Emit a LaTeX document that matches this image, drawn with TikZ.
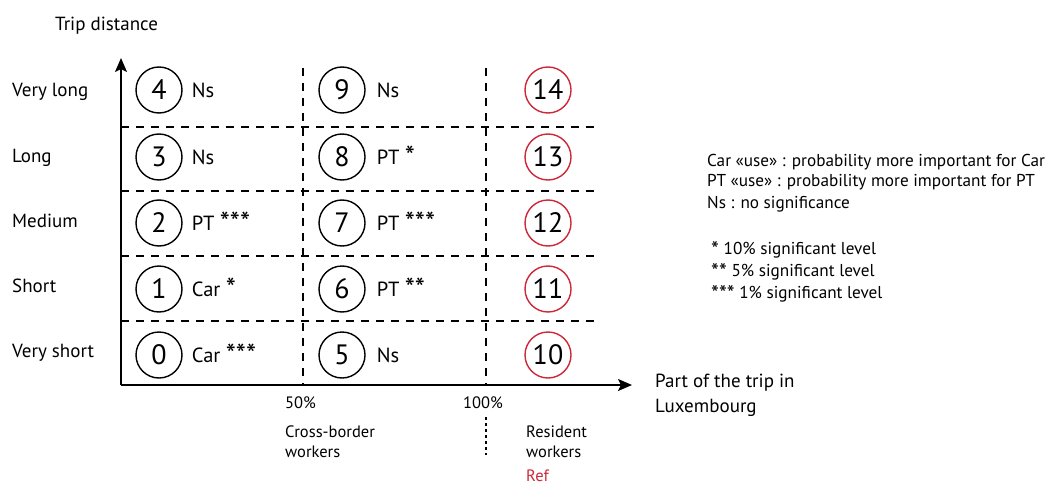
\documentclass[tikz,border=0pt]{standalone}
\usepackage{fontspec}
\usepackage{graphicx}
\setmainfont{PT Sans}
\usetikzlibrary{arrows.meta}
\definecolor{refred}{RGB}{205,40,55}
\newcommand\sta{\smash{\raisebox{-0.13em}{\scalebox{1.4}{*}}}}
\newcommand\stb{\smash{\raisebox{-0.2em}{\scalebox{1.3}{*}}}}
\begin{document}
\begin{tikzpicture}[x=1pt,y=-1pt,
 num/.style={circle,draw,line width=1.4pt,minimum size=46pt,inner sep=0pt,font=\fontsize{28}{30}\selectfont},
 refnum/.style={num,draw=refred},
 lab/.style={anchor=west,font=\fontsize{20.5}{22}\selectfont,inner sep=0pt},
 rowlab/.style={anchor=base west,font=\fontsize{19}{22}\selectfont,inner sep=0pt},
 small/.style={anchor=base west,font=\fontsize{16.5}{20}\selectfont,inner sep=0pt},
 leg/.style={anchor=base west,font=\fontsize{17.2}{20}\selectfont,inner sep=0pt},
 gridline/.style={dash pattern=on 8pt off 7pt,line width=1.3pt},
 axis/.style={line width=1.8pt,-{Stealth[length=14pt,width=12pt,inset=3pt]}}
]
\useasboundingbox (0,0) rectangle (1051,484);
% axes
\coordinate (O) at (121,385);
\coordinate (ytip) at (121,58);
\coordinate (xtip) at (632,385);
% grid
\foreach \y [count=\i] in {127,191,256,321}{
  \coordinate (hl\i) at (121,\y);
  \coordinate (hr\i) at (600,\y);
  \draw[gridline] (hl\i) -- (hr\i);
}
\foreach \x [count=\i] in {303,486}{
  \coordinate (vt\i) at (\x,68);
  \coordinate (vb\i) at (\x,385);
  \draw[gridline] (vt\i) -- (vb\i);
}
\draw[axis] (O) -- (ytip);
\draw[axis] (O) -- (xtip);
% circles
\foreach \y [count=\i from 0] in {355,289,223,157,90}{
  \pgfmathtruncatemacro{\a}{\i}
  \pgfmathtruncatemacro{\b}{\i+5}
  \pgfmathtruncatemacro{\c}{\i+10}
  \node[num] (c\a) at (159,\y) {\a};
  \node[num] (c\b) at (342,\y) {\b};
  \node[refnum] (c\c) at (548,\y) {\c};
}
% cell labels
\node[lab] (l0) at ([xshift=9pt]c0.east) {Car \sta\sta\sta};
\node[lab] (l1) at ([xshift=9pt]c1.east) {Car \sta};
\node[lab] (l2) at ([xshift=9pt]c2.east) {PT \sta\sta\sta};
\node[lab] (l3) at ([xshift=9pt]c3.east) {Ns};
\node[lab] (l4) at ([xshift=9pt]c4.east) {Ns};
\node[lab] (l5) at ([xshift=11pt]c5.east) {Ns};
\node[lab] (l6) at ([xshift=11pt]c6.east) {PT \sta\sta};
\node[lab] (l7) at ([xshift=11pt]c7.east) {PT \sta\sta\sta};
\node[lab] (l8) at ([xshift=11pt]c8.east) {PT \sta};
\node[lab] (l9) at ([xshift=11pt]c9.east) {Ns};
% axis titles and row labels
\node[rowlab] (ttl) at (55,31) {Trip distance};
\node[rowlab] (r4) at (12,97) {Very long};
\node[rowlab] (r3) at (12,162) {Long};
\node[rowlab] (r2) at (12,227) {Medium};
\node[rowlab] (r1) at (12,292) {Short};
\node[rowlab] (r0) at (12,357) {Very short};
\node[rowlab] (xt1) at (655,387) {Part of the trip in};
\node[rowlab] (xt2) at (655,412) {Luxembourg};
% bottom labels
\node[small] (p50) at (285,408) {50\%};
\node[small] (p100) at (463,408) {100\%};
\node[small] (cb1) at (285,437) {Cross-border};
\node[small] (cb2) at (285,457) {workers};
\node[small] (rw1) at (526,437) {Resident};
\node[small] (rw2) at (526,457) {workers};
\node[small,text=refred] (ref) at (526,481) {Ref};
\coordinate (dt) at (486,417);
\coordinate (db) at (486,455);
\draw[line width=1.3pt,dash pattern=on 2.5pt off 3.5pt] (dt) -- (db);
% legend
\node[leg] (g1) at (707,166) {Car «use» : probability more important for Car};
\node[leg] (g2) at (707,186) {PT «use» : probability more important for PT};
\node[leg] (g3) at (707,208) {Ns : no significance};
\node[leg] (g4) at (711,254) {\stb{} 10\% significant level};
\node[leg] (g5) at (711,276) {\stb\stb{} 5\% significant level};
\node[leg] (g6) at (711,298) {\stb\stb\stb{} 1\% significant level};
\end{tikzpicture}
\end{document}
